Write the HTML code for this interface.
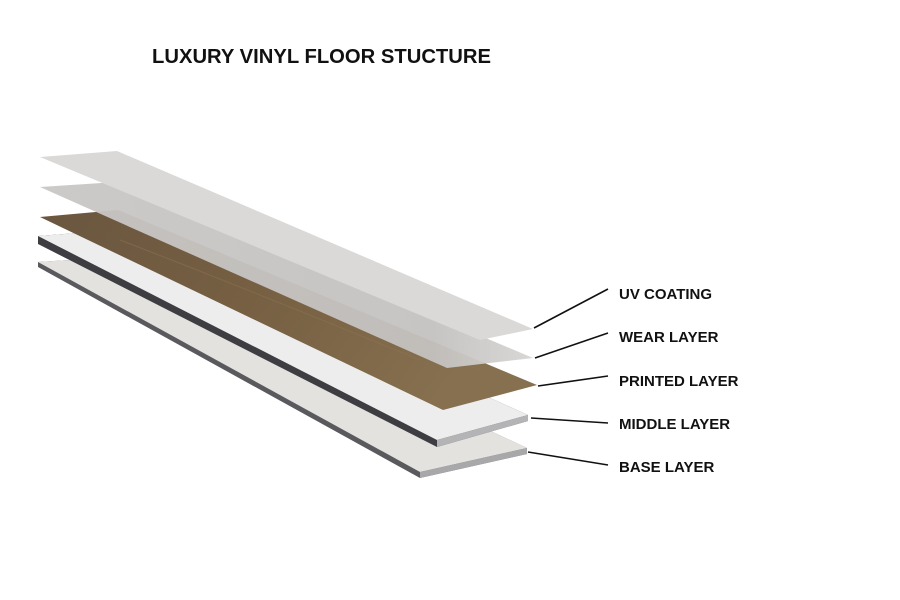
<!DOCTYPE html>
<html><head><meta charset="utf-8"><style>
html,body{margin:0;padding:0;background:#fff;width:900px;height:600px;overflow:hidden}
</style></head><body>
<svg width="900" height="600" viewBox="0 0 900 600" xmlns="http://www.w3.org/2000/svg">
<defs>
<linearGradient id="wood" x1="0" y1="0" x2="1" y2="0.3">
<stop offset="0" stop-color="#6a5640"/><stop offset="0.5" stop-color="#765f42"/><stop offset="1" stop-color="#86704f"/>
</linearGradient>
<linearGradient id="wear" x1="0" y1="0" x2="1" y2="0">
<stop offset="0" stop-color="#c9c7c5"/><stop offset="0.8" stop-color="#c4c2c0"/><stop offset="1" stop-color="#d6d5d3"/>
</linearGradient>
</defs>
<!-- base layer -->
<polygon points="38,262 117,257 527,448 527,454 420,478 38,267" fill="#5a5a5e"/>
<polygon points="38,262 117,257 527,448 420,472" fill="#e4e2df"/>
<polygon points="420,472 527,448 527,454 420,478" fill="#a8a8aa"/>
<!-- middle layer -->
<polygon points="38,236 117,230 528,415 528,421 437,447 38,244" fill="#3e3e42"/>
<polygon points="38,236 117,230 528,415 437,440" fill="#ededed"/>
<polygon points="437,440 528,415 528,421 437,447" fill="#b4b4b6"/>
<!-- printed layer -->
<polygon points="40,217 118,210 537,385 443,410" fill="url(#wood)"/>
<g stroke="#8e7655" stroke-width="1" opacity="0.5" fill="none">
<path d="M120,240 Q250,290 420,360"/><path d="M200,250 Q320,300 480,370"/>
</g>
<!-- wear layer -->
<polygon points="40,187 117,182 533,358 447,368" fill="url(#wear)" opacity="0.95"/>
<!-- uv coating -->
<polygon points="40,157 117,151 533,329 480,340" fill="#dad9d7"/>
<!-- leader lines -->
<g stroke="#111" stroke-width="1.6">
<line x1="534" y1="328" x2="608" y2="289"/>
<line x1="535" y1="358" x2="608" y2="333"/>
<line x1="538" y1="386" x2="608" y2="376"/>
<line x1="531" y1="418" x2="608" y2="423"/>
<line x1="528" y1="452" x2="608" y2="465"/>
</g>
<g font-family="Liberation Sans, sans-serif" font-weight="bold" fill="#111" font-size="15">
<text x="152" y="63" font-size="20" textLength="339" lengthAdjust="spacingAndGlyphs">LUXURY VINYL FLOOR STUCTURE</text>
<text x="619" y="299">UV COATING</text>
<text x="619" y="342">WEAR LAYER</text>
<text x="619" y="386">PRINTED LAYER</text>
<text x="619" y="429">MIDDLE LAYER</text>
<text x="619" y="472">BASE LAYER</text>
</g>
</svg>
</body></html>
